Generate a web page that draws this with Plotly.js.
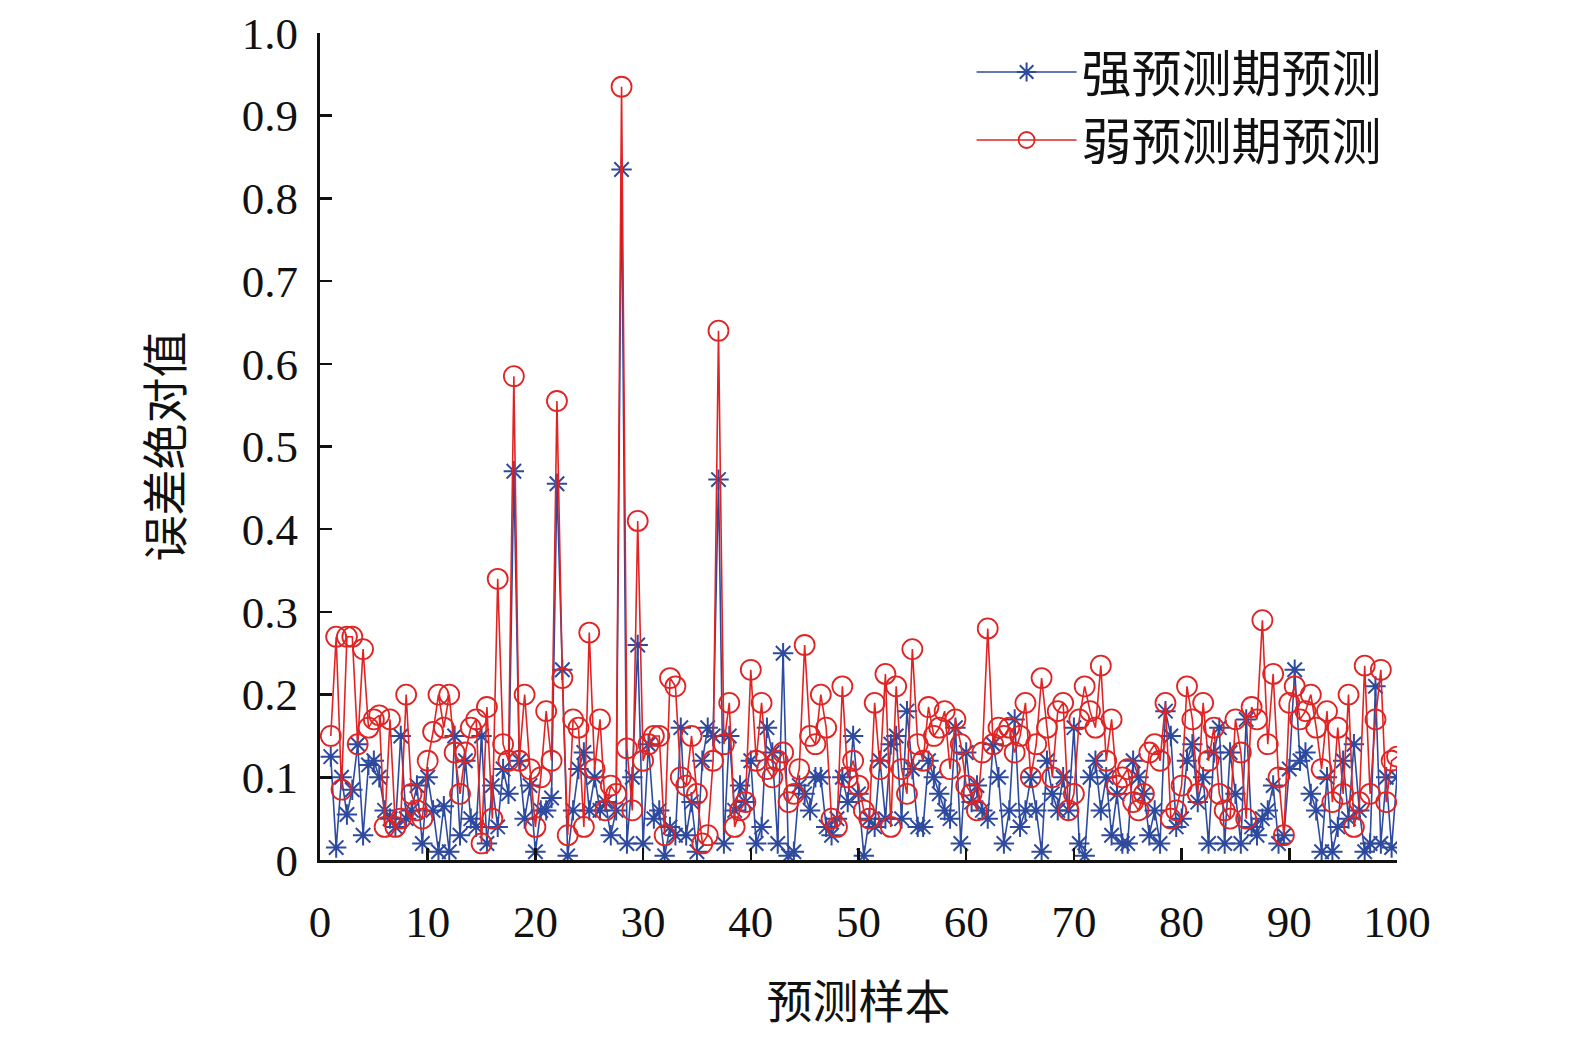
<!DOCTYPE html>
<html><head><meta charset="utf-8">
<script src="https://cdn.plot.ly/plotly-3.0.1.min.js"></script>
<style>body{margin:0;background:#fff}</style>
</head><body>
<div id="chart" style="width:1575px;height:1040px"></div>
<script>
// 误差绝对值, 每0.5个样本一个点, 从样本1开始
const strongErr = [
  0.125,0.015,0.1,0.055,0.085,0.14,0.03,0.115,0.12,0.1,
  0.06,0.05,0.04,0.15,0.05,0.06,0.09,0.02,0.1,0.06,
  0.01,0.065,0.01,0.15,0.03,0.12,0.05,0.04,0.15,0.02,
  0.09,0.04,0.11,0.08,0.47,0.12,0.05,0.09,0.01,0.06,
  0.06,0.075,0.455,0.23,0.005,0.06,0.11,0.13,0.06,0.1,
  0.06,0.07,0.03,0.06,0.835,0.02,0.1,0.26,0.02,0.14,
  0.05,0.06,0.005,0.04,0.03,0.16,0.03,0.07,0.01,0.12,
  0.16,0.15,0.46,0.02,0.15,0.06,0.09,0.07,0.12,0.02,
  0.04,0.16,0.13,0.02,0.25,0.005,0.01,0.09,0.08,0.06,
  0.1,0.1,0.04,0.03,0.05,0.1,0.07,0.15,0.08,0.005,
  0.05,0.04,0.12,0.05,0.14,0.15,0.05,0.18,0.11,0.04,
  0.04,0.12,0.1,0.08,0.06,0.05,0.16,0.02,0.13,0.07,
  0.09,0.06,0.05,0.14,0.1,0.02,0.06,0.17,0.04,0.06,
  0.1,0.06,0.01,0.12,0.08,0.06,0.1,0.06,0.16,0.02,
  0.005,0.1,0.12,0.06,0.1,0.03,0.08,0.02,0.02,0.12,
  0.1,0.08,0.03,0.06,0.02,0.18,0.15,0.04,0.05,0.12,
  0.14,0.07,0.1,0.02,0.13,0.16,0.02,0.13,0.08,0.02,
  0.17,0.04,0.03,0.05,0.06,0.09,0.02,0.03,0.11,0.23,
  0.12,0.13,0.08,0.06,0.01,0.1,0.01,0.04,0.12,0.05,
  0.14,0.06,0.01,0.02,0.21,0.02,0.1,0.015,0.1
];
const weakErr = [
  0.15,0.27,0.085,0.27,0.27,0.14,0.255,0.16,0.17,0.175,
  0.04,0.17,0.04,0.05,0.2,0.08,0.06,0.05,0.12,0.155,
  0.2,0.16,0.2,0.13,0.08,0.13,0.16,0.17,0.02,0.185,
  0.05,0.34,0.14,0.12,0.585,0.12,0.2,0.11,0.04,0.1,
  0.18,0.12,0.555,0.22,0.03,0.17,0.16,0.04,0.275,0.11,
  0.17,0.06,0.09,0.08,0.935,0.135,0.06,0.41,0.12,0.14,
  0.15,0.15,0.03,0.22,0.21,0.1,0.09,0.15,0.08,0.02,
  0.03,0.12,0.64,0.14,0.19,0.04,0.06,0.07,0.23,0.12,
  0.19,0.11,0.1,0.12,0.13,0.07,0.08,0.11,0.26,0.15,
  0.14,0.2,0.16,0.05,0.04,0.21,0.1,0.12,0.09,0.06,
  0.05,0.19,0.11,0.225,0.04,0.21,0.11,0.08,0.255,0.14,
  0.12,0.185,0.15,0.16,0.18,0.11,0.17,0.14,0.09,0.08,
  0.06,0.13,0.28,0.14,0.16,0.15,0.16,0.13,0.15,0.19,
  0.1,0.14,0.22,0.16,0.1,0.18,0.19,0.06,0.08,0.17,
  0.21,0.18,0.16,0.235,0.12,0.17,0.09,0.1,0.11,0.07,
  0.06,0.08,0.13,0.14,0.12,0.19,0.05,0.06,0.09,0.21,
  0.17,0.08,0.19,0.12,0.16,0.08,0.06,0.05,0.17,0.13,
  0.05,0.185,0.17,0.29,0.14,0.225,0.1,0.03,0.19,0.21,
  0.17,0.18,0.2,0.16,0.11,0.18,0.07,0.16,0.08,0.2,
  0.04,0.07,0.235,0.08,0.17,0.23,0.07,0.12,0.125
];
const sampleX = strongErr.map((_, i) => (i + 2) * 0.5);
const yTicks = [0, 0.1, 0.2, 0.3, 0.4, 0.5, 0.6, 0.7, 0.8, 0.9, 1.0];
const yTickText = ['0', '0.1', '0.2', '0.3', '0.4', '0.5', '0.6', '0.7', '0.8', '0.9', '1.0'];

const serif = 'Liberation Serif, Noto Sans CJK SC, serif';

let traces = [
  {
    x: sampleX, y: strongErr, name: '强预测期预测', type: 'scatter', mode: 'lines+markers',
    line: {color: '#2e4a9e', width: 1.6},
    marker: {symbol: 'asterisk-open', size: 17, color: '#2e4a9e', line: {color: '#2e4a9e', width: 2}}
  },
  {
    x: sampleX, y: weakErr, name: '弱预测期预测', type: 'scatter', mode: 'lines+markers',
    line: {color: '#e02424', width: 1.6},
    marker: {symbol: 'circle-open', size: 20, color: '#e02424', line: {color: '#e02424', width: 1.8}}
  }
];

let layout = {
  width: 1575, height: 1040,
  margin: {l: 320, r: 178, t: 33, b: 180},
  paper_bgcolor: '#fff', plot_bgcolor: '#fff',
  font: {family: serif, size: 42, color: '#111'},
  showlegend: true,
  legend: {x: 0.605, y: 1.0, xanchor: 'left', yanchor: 'top', bgcolor: 'rgba(0,0,0,0)',
           font: {family: serif, size: 50}, itemwidth: 100, tracegroupgap: 0},
  xaxis: {
    range: [0, 100], tickvals: [0, 10, 20, 30, 40, 50, 60, 70, 80, 90, 100],
    showgrid: false, zeroline: false, showline: true, linecolor: '#111', linewidth: 3,
    ticks: 'inside', ticklen: 12, tickwidth: 2.5, tickcolor: '#111',
    tickfont: {family: serif, size: 45}, ticklabelstandoff: 20,
    title: {text: '预测样本', font: {family: serif, size: 46}, standoff: 40}
  },
  yaxis: {
    range: [0, 1.0], tickvals: yTicks, ticktext: yTickText,
    showgrid: false, zeroline: false, showline: true, linecolor: '#111', linewidth: 3,
    ticks: 'inside', ticklen: 12, tickwidth: 2.5, tickcolor: '#111',
    tickfont: {family: serif, size: 45}, ticklabelstandoff: 10,
    title: {text: '误差绝对值', font: {family: serif, size: 46}, standoff: 45}
  }
};

Plotly.newPlot('chart', traces, layout, {displayModeBar: false, staticPlot: true});
</script>
</body></html>
